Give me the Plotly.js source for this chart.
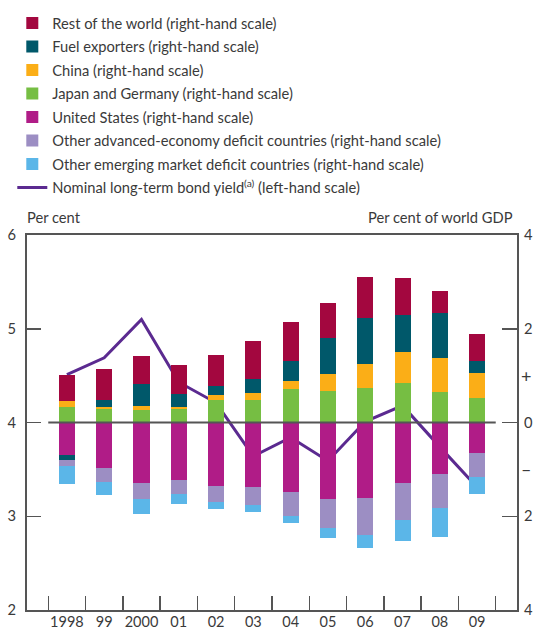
<!DOCTYPE html>
<html>
<head>
<meta charset="utf-8">
<script src="https://cdn.plot.ly/plotly-3.0.1.min.js"></script>
<style>
  html, body { margin: 0; padding: 0; background: #ffffff; }
  #chart { width: 533px; height: 630px; }
</style>
</head>
<body>
<div id="chart"></div>
<script>
// Categories (years)
const categories = ['1998', '99', '2000', '01', '02', '03', '04', '05', '06', '07', '08', '09'];

// Current account balances, per cent of world GDP (right-hand scale)
const restOfWorld   = [0.57, 0.68, 0.60, 0.62, 0.68, 0.81, 0.83, 0.74, 0.87, 0.79, 0.47, 0.57];
const fuelExporters = [-0.11, 0.13, 0.47, 0.26, 0.19, 0.30, 0.43, 0.77, 0.98, 0.79, 0.96, 0.26];
const china         = [0.11, 0.06, 0.09, 0.06, 0.11, 0.13, 0.17, 0.36, 0.51, 0.66, 0.72, 0.53];
const japanGermany  = [0.34, 0.28, 0.26, 0.28, 0.47, 0.49, 0.72, 0.68, 0.74, 0.85, 0.66, 0.53];
const unitedStates  = [-0.70, -0.96, -1.30, -1.23, -1.36, -1.38, -1.49, -1.64, -1.62, -1.30, -1.09, -0.66];
const otherAdvanced = [-0.11, -0.30, -0.34, -0.30, -0.34, -0.38, -0.51, -0.62, -0.77, -0.79, -0.74, -0.51];
const otherEmerging = [-0.40, -0.28, -0.32, -0.21, -0.15, -0.15, -0.15, -0.21, -0.28, -0.43, -0.62, -0.36];

// Nominal long-term bond yield, per cent (left-hand scale)
const bondYield     = [4.51, 4.69, 5.10, 4.43, 4.21, 3.64, 3.84, 3.59, 4.01, 4.18, 3.74, 3.31];

// Axis tick labels
const leftTicks  = [2, 3, 4, 5, 6];
const rightTickVals = [-4, -2, 0, 2, 4];
const rightTickText = ['4', '2', '0', '2', '4'];

const FONT = 'Lato, "Noto Sans", sans-serif';
const TXT = '#3a3a3a';
const AX = '#555555';

function bar(name, y, color, rank) {
  return {
    type: 'bar', name: name, x: categories, y: y, yaxis: 'y2',
    marker: { color: color, line: { width: 0 } },
    width: 0.43, legendrank: rank, legendgroup: 'g' + rank, hoverinfo: 'skip'
  };
}

const traces = [
  bar('Japan and Germany (right-hand scale)', japanGermany, '#76BE43', 4),
  bar('United States (right-hand scale)', unitedStates, '#B01C87', 5),
  bar('China (right-hand scale)', china, '#FBAE17', 3),
  bar('Fuel exporters (right-hand scale)', fuelExporters, '#00586A', 2),
  bar('Rest of the world (right-hand scale)', restOfWorld, '#A3073F', 1),
  bar('Other advanced-economy deficit countries (right-hand scale)', otherAdvanced, '#9C8EC3', 6),
  bar('Other emerging market deficit countries (right-hand scale)', otherEmerging, '#5BB6E8', 7),
  {
    type: 'scatter', mode: 'lines', name: 'Nominal long-term bond yield<sup>(a)</sup> (left-hand scale)',
    x: categories, y: bondYield, yaxis: 'y',
    line: { color: '#5B2A90', width: 3 }, legendrank: 8, legendgroup: 'g8', hoverinfo: 'skip'
  }
];

const layout = {
  width: 533, height: 630,
  margin: { l: 27, r: 16, t: 235, b: 20 },
  paper_bgcolor: '#ffffff', plot_bgcolor: '#ffffff',
  font: { family: FONT, size: 14.7, color: TXT },
  barmode: 'relative',
  bargap: 0,
  showlegend: true,
  legend: {
    xref: 'paper', yref: 'container',
    x: -0.03, xanchor: 'left', y: 0.989, yanchor: 'top',
    bgcolor: 'rgba(0,0,0,0)', font: { family: FONT, size: 14.7, color: TXT },
    traceorder: 'grouped', tracegroupgap: 1.4, itemclick: false
  },
  xaxis: {
    type: 'category', range: [-1.07, 12.07],
    tickson: 'boundaries', ticks: 'inside', ticklen: 14, tickwidth: 1.5, tickcolor: AX,
    tickangle: 0, ticklabelstandoff: -2,
    showline: true, linecolor: AX, linewidth: 2, mirror: true,
    showgrid: false, zeroline: false,
    tickfont: { family: FONT, size: 14.5, color: TXT }
  },
  yaxis: {
    range: [2, 6], tickvals: leftTicks,
    ticks: 'inside', ticklen: 14, tickwidth: 1.5, tickcolor: AX,
    showline: true, linecolor: AX, linewidth: 2,
    showgrid: false, zeroline: false,
    ticklabelstandoff: 6,
    tickfont: { family: FONT, size: 14.7, color: TXT }
  },
  yaxis2: {
    overlaying: 'y', side: 'right', range: [-4, 4],
    tickvals: rightTickVals, ticktext: rightTickText,
    ticks: 'inside', ticklen: 15, tickwidth: 1.5, tickcolor: AX,
    showline: true, linecolor: AX, linewidth: 2,
    showgrid: false, zeroline: false,
    ticklabelstandoff: 2,
    tickfont: { family: FONT, size: 14.7, color: TXT }
  },
  shapes: [
    { type: 'line', xref: 'x', yref: 'y2', x0: -0.5, x1: 11.5, y0: 0, y1: 0,
      line: { color: AX, width: 2 }, layer: 'above' }
  ],
  annotations: [
    { text: 'Per cent', xref: 'paper', yref: 'paper', x: -0.005, y: 1.0, yshift: 7,
      xanchor: 'left', yanchor: 'bottom', showarrow: false, font: { family: FONT, size: 14.7, color: TXT } },
    { text: 'Per cent of world GDP', xref: 'paper', yref: 'paper', x: 0.995, y: 1.0, yshift: 7,
      xanchor: 'right', yanchor: 'bottom', showarrow: false, font: { family: FONT, size: 14.7, color: TXT } },
    { text: '+', xref: 'paper', yref: 'y2', x: 1, y: 1, xanchor: 'left', xshift: 2,
      showarrow: false, font: { family: FONT, size: 18, color: TXT } },
    { text: '\u2013', xref: 'paper', yref: 'y2', x: 1, y: -1, xanchor: 'left', xshift: 2,
      showarrow: false, font: { family: FONT, size: 18, color: TXT } }
  ]
};

Plotly.newPlot('chart', traces, layout, { displayModeBar: false, staticPlot: true });
</script>
</body>
</html>
